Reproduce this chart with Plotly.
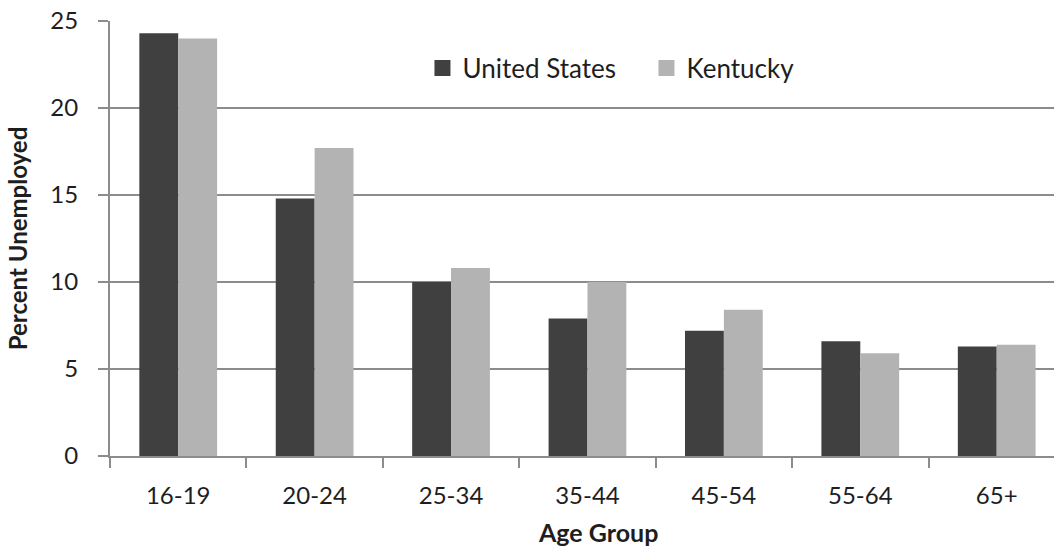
import plotly.graph_objects as go

# Unemployment rate by age group
age_groups = ["16-19", "20-24", "25-34", "35-44", "45-54", "55-64", "65+"]
united_states = [24.3, 14.8, 10.0, 7.9, 7.2, 6.6, 6.3]
kentucky = [24.0, 17.7, 10.8, 10.0, 8.4, 5.9, 6.4]
y_ticks = [0, 5, 10, 15, 20, 25]

US_COLOR = "#404040"
KY_COLOR = "#b3b3b3"
GRID = "#8c8c8c"
FONT = "Lato, 'Open Sans', sans-serif"
TEXT = "#1e1e1e"

fig = go.Figure()
fig.add_trace(go.Bar(x=age_groups, y=united_states, name="United States",
                     marker=dict(color=US_COLOR, line=dict(width=0)),
                     showlegend=False))
fig.add_trace(go.Bar(x=age_groups, y=kentucky, name="Kentucky",
                     marker=dict(color=KY_COLOR, line=dict(width=0)),
                     showlegend=False))

# larger square legend swatches
for name, color in [("United States", US_COLOR), ("Kentucky", KY_COLOR)]:
    fig.add_trace(go.Scatter(x=[None], y=[None], mode="markers", name=name,
                             marker=dict(symbol="square", size=16, color=color)))

fig.update_layout(
    width=1054, height=548,
    margin=dict(l=110, r=0, t=21, b=92),
    paper_bgcolor="white", plot_bgcolor="white",
    barmode="group", bargap=0.43, bargroupgap=0,
    font=dict(family=FONT, size=24, color=TEXT),
    legend=dict(orientation="h", x=0.331, xanchor="left", y=0.892, yanchor="middle",
                font=dict(family=FONT, size=26, color=TEXT),
                bgcolor="rgba(0,0,0,0)", entrywidth=179, itemwidth=30),
    xaxis=dict(
        type="category", range=[-0.5, 6.42],
        showline=True, linecolor=GRID, linewidth=2,
        ticks="outside", tickson="boundaries", ticklen=10, tickwidth=2, tickcolor=GRID,
        showgrid=False, ticklabelstandoff=17,
        tickfont=dict(size=24, color=TEXT),
    ),
    yaxis=dict(
        range=[0, 25], tickvals=y_ticks,
        showline=True, linecolor=GRID, linewidth=2,
        ticks="outside", ticklen=10, tickwidth=2, tickcolor=GRID,
        showgrid=True, gridcolor=GRID, gridwidth=2, zeroline=False,
        ticklabelstandoff=15,
        tickfont=dict(size=24, color=TEXT),
        title=dict(text="<b>Percent Unemployed</b>", font=dict(size=24, color=TEXT), standoff=16),
    ),
    annotations=[dict(
        text="<b>Age Group</b>", xref="paper", yref="paper",
        x=0.517, y=-0.175, xanchor="center", yanchor="middle", showarrow=False,
        font=dict(family=FONT, size=25, color=TEXT),
    )],
)

fig.write_html("out.html")
